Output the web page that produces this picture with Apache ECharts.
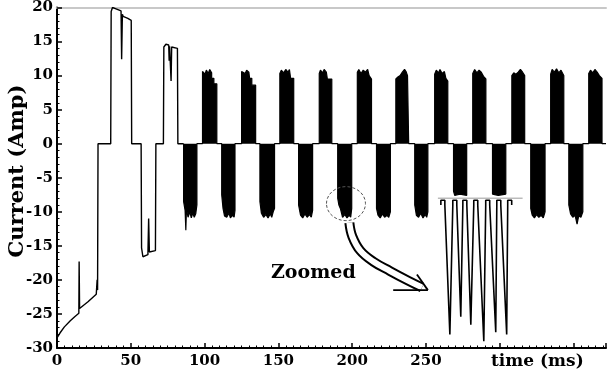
<!DOCTYPE html>
<html>
<head>
<meta charset="utf-8">
<script src="https://cdn.jsdelivr.net/npm/echarts@6/dist/echarts.min.js"></script>
<style>
html,body{margin:0;padding:0;background:#fff;}
#chart{width:609px;height:376px;}
</style>
</head>
<body>
<div id="chart"></div>
<script>
// ---- data (time in ms, current in A) ----
const xTickLabels = ['0', '50', '100', '150', '200', '250'];
const yTickLabels = ['20', '15', '10', '5', '0', '-5', '-10', '-15', '-20', '-25', '-30'];

// start-up transient (outline only)
const startupCurrent = [
  [0,-28.5],[2,-27.8],[5,-26.9],[9,-26.0],[12,-25.4],[14.8,-24.9],[15.0,-17.3],[15.3,-24.2],[16,-24.2],
  [21,-23.2],[26.6,-22.1],[26.9,-22.0],[27.2,-20.0],[27.5,-21.5],[27.8,0],
  [36.4,0],[36.7,19.4],[37.6,20.0],[40,19.8],[43.4,19.5],[43.8,12.4],[44.3,19.0],[44.8,18.7],[48,18.4],[50.3,18.1],[50.6,0],
  [57.0,0],[57.3,-15.3],[58.2,-16.6],[61.6,-16.3],[62.1,-11.0],[62.6,-15.9],[66.7,-15.7],[67.0,0],
  [72.1,0],[72.4,14.2],[73.8,14.6],[75.7,14.5],[76.0,12.2],[76.3,14.3],[76.9,14.2],[77.3,9.2],[77.7,14.2],[81.6,14.0],[81.9,0],[85.8,0]
];

// chopped (PWM) current blocks: envelope of each block
const pwmCurrent = [
  [85.8,0],[85.8,-8.5],[86.8,-9.8],[87.3,-12.7],[87.7,-9.6],[88.8,-10.8],[90,-10.0],[91,-10.9],[92,-10.2],[93,-10.8],[94,-10.3],[94.8,-9.0],[94.8,0],
  [98.6,0],[98.6,10.6],[99.5,10.8],[100.3,10.2],[101.2,10.8],[102.5,10.3],[103.5,10.9],[104.8,10.4],[104.8,9.6],[106.3,9.6],[106.3,8.8],[108.3,8.8],[108.3,0],
  [111.6,0],[111.6,-7.5],[112.5,-9.5],[113.5,-10.6],[115,-10.8],[116.5,-10.2],[117.5,-10.9],[119,-10.5],[120,-10.8],[120.6,-9.8],[120.6,0],
  [125.1,0],[125.1,10.6],[126,10.8],[127.5,10.3],[128.5,10.8],[130,10.5],[130.5,9.6],[132,9.6],[132,8.6],[134.6,8.6],[134.6,0],
  [137.5,0],[137.5,-8.5],[138.5,-10.2],[140,-10.8],[141.5,-10.4],[143,-10.9],[144.5,-10.3],[145.5,-10.8],[146.5,-10.0],[147.4,-9.5],[147.4,0],
  [151,0],[151,10.3],[152,10.8],[153.5,10.4],[155,10.9],[156.5,10.5],[157.5,10.9],[158.3,10.9],[158.3,9.6],[160.4,9.6],[160.4,0],
  [163.7,0],[163.7,-9],[165,-10.5],[166.5,-10.9],[168,-10.3],[169.5,-10.8],[171,-10.4],[172.3,-10.8],[173.2,-9.8],[173.2,0],
  [177.7,0],[177.7,10.3],[178.5,10.8],[180,10.4],[181,10.9],[182.5,10.5],[183.2,10.5],[183.2,9.5],[186.2,9.5],[186.2,0],
  [190.2,0],[190.2,-8.0],[191,-9.0],[192,-9.5],[193.5,-10.8],[195,-10.4],[196.5,-10.9],[198,-10.5],[199,-10.8],[199.7,-9.5],[199.7,0],
  [203.5,0],[203.5,10.5],[204.5,10.9],[206,10.3],[207.5,10.8],[209,10.5],[210.5,10.9],[211.5,10.0],[213.1,9.5],[213.1,0],
  [216.5,0],[216.5,-9.5],[217.5,-10.5],[219,-10.9],[220.5,-10.3],[222,-10.8],[223.5,-10.5],[224.8,-10.8],[225.9,-10.0],[225.9,0],
  [229.6,0],[229.6,9.5],[231,9.8],[232.5,10.0],[234,10.5],[235.5,10.9],[236.5,10.6],[237.5,10.0],[238.3,9.8],[238.3,0],
  [242.4,0],[242.4,-9.0],[243.5,-10.5],[245,-10.8],[246.5,-10.2],[248,-10.9],[249.5,-10.4],[250.5,-10.8],[251.3,-10.0],[251.3,0],
  [255.9,0],[255.9,10.2],[257,10.8],[258.5,10.4],[259.5,10.9],[261,10.3],[262.5,10.6],[263.5,9.6],[264.8,9.2],[264.8,0],
  [268.7,0],[268.7,-7.0],[269.5,-7.6],[273,-7.4],[277.6,-7.6],[277.6,0],
  [281.7,0],[281.7,10.3],[283,10.9],[284.5,10.4],[286,10.8],[287.5,10.5],[289,9.9],[290.6,9.5],[290.6,0],
  [295.1,0],[295.1,-7.4],[299,-7.6],[304.1,-7.4],[304.1,0],
  [308.2,0],[308.2,10.0],[309.5,10.4],[311,10.2],[312.5,10.5],[314,10.9],[315.5,10.5],[316.9,10.0],[316.9,0],
  [321,0],[321,-9.5],[322,-10.5],[323.5,-10.9],[325,-10.4],[326.5,-10.8],[328,-10.5],[329.5,-10.9],[330.7,-10.0],[330.7,0],
  [334.5,0],[334.5,10.2],[335.5,10.9],[337,10.5],[338.5,11.0],[340,10.4],[341.5,10.8],[343.4,10.0],[343.4,0],
  [346.8,0],[346.8,-9],[348,-10.3],[349.5,-10.8],[351,-10.5],[352.4,-11.8],[353.5,-10.6],[355,-10.8],[356.3,-10.0],[356.3,0],
  [360.3,0],[360.3,10.3],[361.5,10.8],[363,10.4],[364.5,10.9],[366,10.5],[367.5,10.0],[369.3,9.6],[369.3,0],[372,0]
];

// zoomed inset (illustration drawn in the plot)
const insetBaseline = [[258.1,-8.0],[315.5,-8.0]];
const insetTrace = [
  [260.1,-9.0],[260.1,-8.3],[262.8,-8.3],[262.8,-9.0],[266.2,-28.0],[268.2,-9.0],
  [268.2,-8.3],[270.9,-8.3],[270.9,-9.0],[273.6,-25.4],[275.0,-9.0],
  [275.0,-8.3],[277.7,-8.3],[277.7,-9.0],[280.4,-26.6],[282.4,-9.0],
  [282.4,-8.3],[285.1,-8.3],[285.1,-9.0],[289.2,-29.0],[290.5,-9.0],
  [290.5,-8.3],[293.2,-8.3],[293.2,-9.0],[297.3,-27.7],[298.0,-9.0],
  [298.0,-8.3],[300.7,-8.3],[300.7,-9.0],[304.7,-28.0],[305.4,-9.0],
  [305.4,-8.3],[308.1,-8.3],[308.1,-9.0]
];
// annotation: arrow from the circled block to the inset
const arrowShaft = [[198.1,-11.6],[200.1,-13.6],[205.5,-15.7],[214.3,-17.3],[225.7,-18.7],[237.9,-20.1],[247.3,-21.1]];
const arrowHeadA = [[227.8,-21.5],[251.3,-21.5]];
const arrowHeadB = [[243.9,-19.2],[251.3,-21.5]];
const circleCenter = [195.8,-8.8];

const FONT = 'DejaVu Serif';
const chart = echarts.init(document.getElementById('chart'), null, {renderer: 'canvas'});

const lineSeries = (name, data, color, width, extra) => Object.assign({
  name, type: 'line', data, showSymbol: false, symbol: 'none', animation: false,
  lineStyle: {color, width}, silent: true
}, extra || {});

chart.setOption({
  backgroundColor: '#ffffff',
  animation: false,
  grid: {left: 57, right: 0, top: 7, bottom: 28, containLabel: false},
  xAxis: [{
    type: 'value', min: 0, max: 372, interval: 50, position: 'bottom',
    axisLine: {show: true, onZero: false, lineStyle: {color: '#000', width: 2}},
    axisTick: {show: true, inside: true, length: 5, lineStyle: {color: '#000', width: 1.5}},
    minorTick: {show: true, splitNumber: 10, length: 2.5, lineStyle: {color: '#000', width: 1}},
    splitLine: {show: false},
    axisLabel: {
      margin: 6, color: '#000', fontFamily: FONT, fontWeight: 'bold', fontSize: 15,
      formatter: v => (xTickLabels.indexOf(String(v)) >= 0 ? String(v) : '')
    }
  }, {
    type: 'value', min: 0, max: 372, position: 'top',
    axisLine: {show: true, onZero: false, lineStyle: {color: '#c8c8c8', width: 2}},
    axisTick: {show: false}, axisLabel: {show: false}, splitLine: {show: false}
  }],
  yAxis: {
    type: 'value', min: -30, max: 20, interval: 5,
    axisLine: {show: true, onZero: false, lineStyle: {color: '#000', width: 2}},
    axisTick: {show: true, inside: true, length: 5, lineStyle: {color: '#000', width: 1.5}},
    minorTick: {show: true, splitNumber: 5, length: 2.5, lineStyle: {color: '#000', width: 1}},
    splitLine: {show: false},
    axisLabel: {
      margin: 4, color: '#000', fontFamily: FONT, fontWeight: 'bold', fontSize: 15,
      formatter: v => (yTickLabels.indexOf(String(v)) >= 0 ? String(v) : '')
    }
  },
  series: [
    lineSeries('startup', startupCurrent, '#000', 1.4),
    lineSeries('pwm', pwmCurrent, '#000', 1.2, {areaStyle: {color: '#000', opacity: 1}}),
    lineSeries('insetBase', insetBaseline, '#9a9a9a', 1),
    lineSeries('insetTrace', insetTrace, '#000', 1.6),
    lineSeries('arrowOuter', arrowShaft, '#000', 10, {smooth: 0.4, lineStyle: {color: '#000', width: 10, cap: 'butt'}}),
    lineSeries('arrowInner', arrowShaft, '#fff', 6, {smooth: 0.4, lineStyle: {color: '#fff', width: 6, cap: 'butt'}}),
    lineSeries('arrowHeadA', arrowHeadA, '#000', 1.8),
    lineSeries('arrowHeadB', arrowHeadB, '#000', 1.8)
  ]
});

const c = chart.convertToPixel({xAxisIndex: 0, yAxisIndex: 0}, circleCenter);
chart.setOption({
  graphic: [
    {type: 'ellipse', shape: {cx: c[0], cy: c[1], rx: 19.5, ry: 17}, z: 100,
     style: {fill: 'none', stroke: '#555', lineWidth: 1, lineDash: [3, 2]}},
    {type: 'text', left: 271, top: 264, z: 100,
     style: {text: 'Zoomed', fill: '#000', font: 'bold 19px "DejaVu Serif"'}},
    {type: 'text', left: 491, top: 353, z: 100,
     style: {text: 'time (ms)', fill: '#000', font: 'bold 17px "DejaVu Serif"'}},
    {type: 'text', x: 18, y: 171, rotation: Math.PI / 2, z: 100,
     style: {text: 'Current (Amp)', fill: '#000', font: 'bold 21px "DejaVu Serif"', align: 'center', verticalAlign: 'middle'}}
  ]
});
</script>
</body>
</html>
